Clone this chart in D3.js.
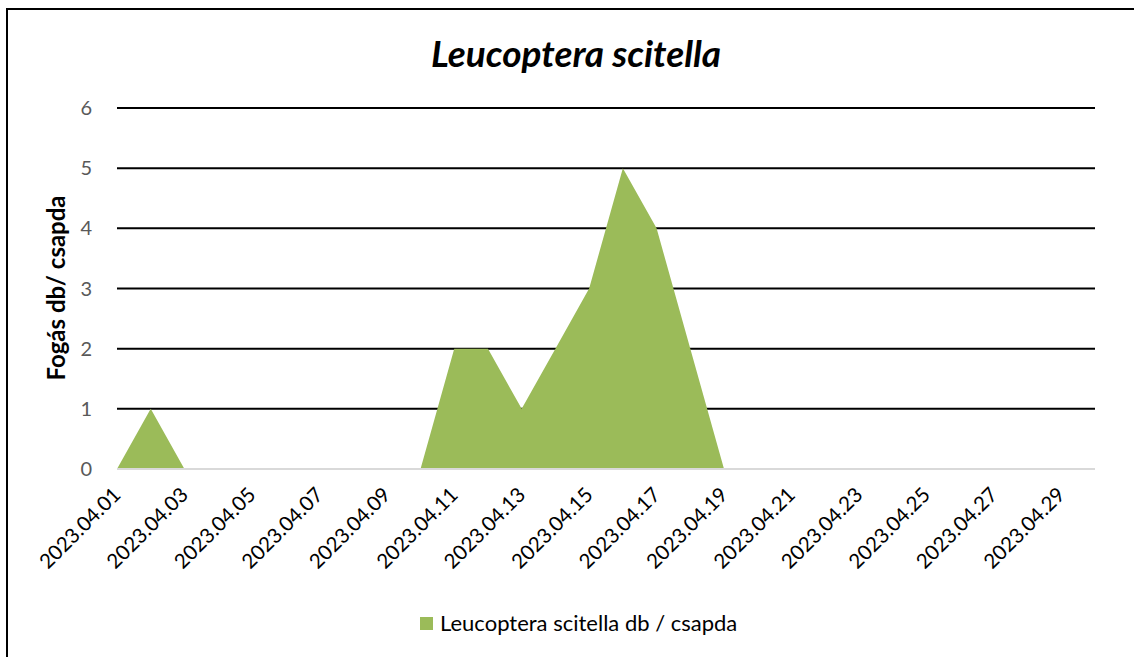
<!DOCTYPE html>
<html>
<head>
<meta charset="utf-8">
<script src="https://cdn.jsdelivr.net/npm/d3@7"></script>
<style>
  body { margin: 0; background: #fff; }
  svg { display: block; font-family: Lato, "Open Sans", sans-serif; }
</style>
</head>
<body>
<svg id="chart" width="1134" height="657"></svg>
<script>
// data
var dates = ["2023.04.01","2023.04.02","2023.04.03","2023.04.04","2023.04.05","2023.04.06",
  "2023.04.07","2023.04.08","2023.04.09","2023.04.10","2023.04.11","2023.04.12",
  "2023.04.13","2023.04.14","2023.04.15","2023.04.16","2023.04.17","2023.04.18",
  "2023.04.19","2023.04.20","2023.04.21","2023.04.22","2023.04.23","2023.04.24",
  "2023.04.25","2023.04.26","2023.04.27","2023.04.28","2023.04.29","2023.04.30"];
var counts = [0,1,0,0,0,0,0,0,0,0,2,2,1,2,3,5,4,2,0,0,0,0,0,0,0,0,0,0,0,0];
var yTicks = [0,1,2,3,4,5,6];
var title = "Leucoptera scitella";
var yTitle = "Fogás db/ csapda";
var seriesName = "Leucoptera scitella db / csapda";

var svg = d3.select("#chart");
var green = "#9bbb59";

// chart frame (right and bottom sides run off the picture)
svg.append("rect")
    .attr("x", 7).attr("y", 9)
    .attr("width", 1150).attr("height", 700)
    .attr("fill", "none").attr("stroke", "#000").attr("stroke-width", 2);

var plotLeft = 117, plotRight = 1095, plotTop = 108, plotBottom = 469;

var x = d3.scalePoint().domain(dates).range([plotLeft, plotRight]);
var y = d3.scaleLinear().domain([0, 6]).range([plotBottom, plotTop]);

// gridlines
svg.append("g").selectAll("line")
    .data(yTicks.filter(function (d) { return d > 0; }))
    .enter().append("line")
    .attr("x1", plotLeft).attr("x2", plotRight)
    .attr("y1", function (d) { return y(d); })
    .attr("y2", function (d) { return y(d); })
    .attr("stroke", "#000").attr("stroke-width", 2);

// area
var area = d3.area()
    .x(function (d, i) { return x(dates[i]); })
    .y0(y(0))
    .y1(function (d) { return y(d); });
svg.append("path")
    .datum(counts)
    .attr("d", area)
    .attr("fill", green);

// x axis line
svg.append("line")
    .attr("x1", plotLeft).attr("x2", plotRight)
    .attr("y1", y(0)).attr("y2", y(0))
    .attr("stroke", "#d9d9d9").attr("stroke-width", 2);

// y tick labels
svg.append("g").selectAll("text")
    .data(yTicks)
    .enter().append("text")
    .attr("x", 92)
    .attr("y", function (d) { return y(d); })
    .attr("dy", "0.35em")
    .attr("text-anchor", "end")
    .attr("fill", "#595959")
    .style("font-size", "20px")
    .text(function (d) { return d; });

// x tick labels, every second day
svg.append("g").selectAll("text")
    .data(dates.filter(function (d, i) { return i % 2 === 0; }))
    .enter().append("text")
    .attr("transform", function (d) { return "translate(" + (x(d) + 5) + "," + 496 + ") rotate(-45)"; })
    .attr("text-anchor", "end")
    .attr("fill", "#000")
    .style("font-size", "20.5px")
    .text(function (d) { return d; });

// title
svg.append("text")
    .attr("x", 576).attr("y", 67)
    .attr("text-anchor", "middle")
    .style("font-size", "37px")
    .style("font-weight", "bold")
    .style("font-style", "italic")
    .text(title);

// y axis title
svg.append("text")
    .attr("transform", "translate(65,288) rotate(-90)")
    .attr("text-anchor", "middle")
    .style("font-size", "24px")
    .style("font-weight", "bold")
    .text(yTitle);

// legend
var legend = svg.append("g").attr("transform", "translate(420,617)");
legend.append("rect")
    .attr("width", 13).attr("height", 13)
    .attr("fill", green);
legend.append("text")
    .attr("x", 20).attr("y", 14)
    .style("font-size", "22px")
    .attr("fill", "#000")
    .text(seriesName);
</script>
</body>
</html>
